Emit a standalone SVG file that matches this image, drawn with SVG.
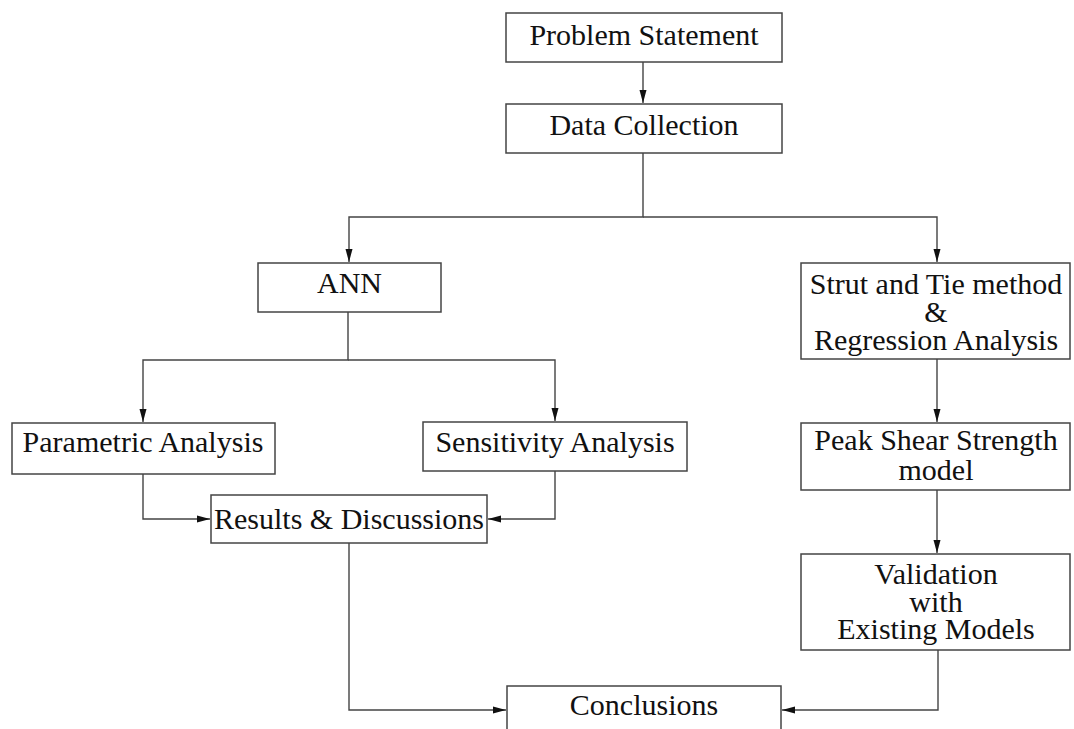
<svg xmlns="http://www.w3.org/2000/svg" width="1074" height="729" viewBox="0 0 1074 729">
<style>
.box{fill:#fff;stroke:#444;stroke-width:1.5}
.t{font-family:"Liberation Serif","Times New Roman",serif;font-size:30px;fill:#111;text-anchor:middle}
.c{fill:none;stroke:#444;stroke-width:1.4}
</style>
<defs>
<marker id="ah" markerUnits="userSpaceOnUse" markerWidth="14" markerHeight="10" refX="13" refY="5" orient="auto">
<path d="M0,1.5 L13,5 L0,8.5 Z" fill="#111"/>
</marker>
</defs>
<rect width="1074" height="729" fill="#fff"/>
<g id="connectors">
<path class="c" d="M643,62 V103" marker-end="url(#ah)"/>
<path class="c" d="M643,153 V217 H349 V262" marker-end="url(#ah)"/>
<path class="c" d="M643,217 H937 V262" marker-end="url(#ah)"/>
<path class="c" d="M348,312 V360 H143 V422" marker-end="url(#ah)"/>
<path class="c" d="M348,360 H555 V421" marker-end="url(#ah)"/>
<path class="c" d="M143,474 V519 H210" marker-end="url(#ah)"/>
<path class="c" d="M555,471 V519 H488" marker-end="url(#ah)"/>
<path class="c" d="M937,359 V422" marker-end="url(#ah)"/>
<path class="c" d="M937,490 V553" marker-end="url(#ah)"/>
<path class="c" d="M349,543 V710 H506" marker-end="url(#ah)"/>
<path class="c" d="M938,650 V710 H782" marker-end="url(#ah)"/>
</g>
<g id="problem"><rect class="box" x="506" y="13" width="276" height="49"/><text class="t" x="644" y="45">Problem Statement</text></g>
<g id="data"><rect class="box" x="506" y="104" width="276" height="49"/><text class="t" x="644" y="135">Data Collection</text></g>
<g id="ann"><rect class="box" x="258" y="263" width="183" height="49"/><text class="t" x="349.5" y="293">ANN</text></g>
<g id="strut"><rect class="box" x="801" y="263" width="269" height="96"/><text class="t" x="936" y="294">Strut and Tie method</text><text class="t" x="936" y="322">&amp;</text><text class="t" x="936" y="350">Regression Analysis</text></g>
<g id="parametric"><rect class="box" x="12" y="423" width="263" height="51"/><text class="t" x="143" y="452">Parametric Analysis</text></g>
<g id="sensitivity"><rect class="box" x="423" y="422" width="264" height="49"/><text class="t" x="555" y="452">Sensitivity Analysis</text></g>
<g id="results"><rect class="box" x="211" y="495" width="276" height="48"/><text class="t" x="349" y="529">Results &amp; Discussions</text></g>
<g id="peak"><rect class="box" x="801" y="423" width="269" height="67"/><text class="t" x="936" y="450">Peak Shear Strength</text><text class="t" x="936" y="480">model</text></g>
<g id="validation"><rect class="box" x="801" y="554" width="269" height="96"/><text class="t" x="936" y="584">Validation</text><text class="t" x="936" y="612">with</text><text class="t" x="936" y="639">Existing Models</text></g>
<g id="conclusions"><rect class="box" x="507" y="686" width="274" height="60"/><text class="t" x="644" y="715">Conclusions</text></g>
</svg>
